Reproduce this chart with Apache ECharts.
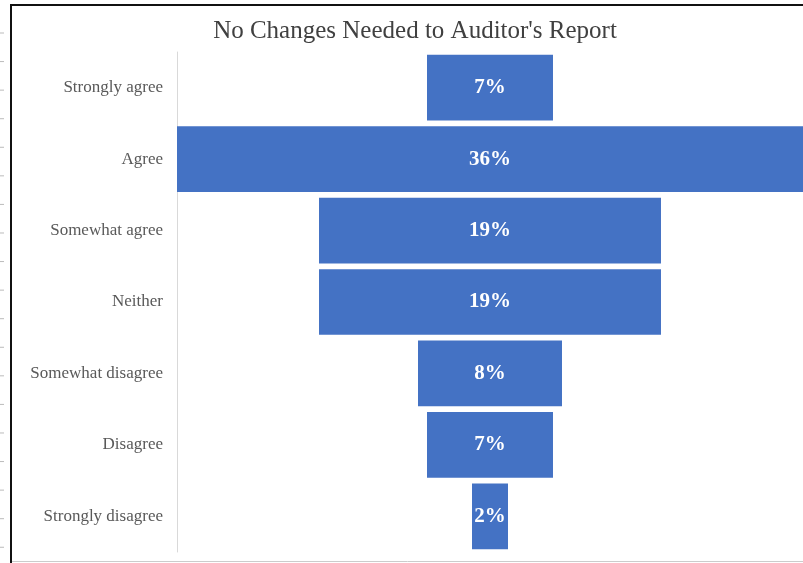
<!DOCTYPE html>
<html><head><meta charset="utf-8">
<script src="https://cdn.jsdelivr.net/npm/echarts@6/dist/echarts.min.js"></script>
<style>html,body{margin:0;padding:0;background:#fff}#c{width:803px;height:563px}</style>
</head><body><div id="c"></div>
<script>
const categories = ['Strongly agree','Agree','Somewhat agree','Neither','Somewhat disagree','Disagree','Strongly disagree'];
const values = [7, 36, 19, 19, 8, 7, 2];
const center = 20;
const offsets = values.map(v => center - v / 2);

const serif = "'Liberation Serif', 'Times New Roman', serif";
const chart = echarts.init(document.getElementById('c'));
const ticks = [];
for (let k = 0; k < 20; k++) {
  ticks.push({type:'line', shape:{x1:0,y1:33+k*28.57,x2:4,y2:33+k*28.57}, style:{stroke:'#bbb',lineWidth:1}});
}
chart.setOption({
  animation:false,
  title:{text:"No Changes Needed to Auditor's Report", left:410, textAlign:'center', top:14,
    textStyle:{fontFamily:serif, fontSize:25, fontWeight:'normal', color:'#404040'}},
  grid:{left:177, right:0, top:52, bottom:11},
  xAxis:{type:'value', min:center-17.39, max:center+17.39, show:false},
  yAxis:{type:'category', data:categories, inverse:true,
    axisLine:{show:true, lineStyle:{color:'#d9d9d9', width:1}},
    axisTick:{show:false},
    axisLabel:{fontFamily:serif, fontSize:17, color:'#595959', margin:14}},
  series:[
    {type:'bar', stack:'f', data:offsets, itemStyle:{color:'transparent'}, barWidth:'92%', silent:true, clip:true},
    {type:'bar', stack:'f', data:values, barWidth:'92%', clip:true,
      itemStyle:{color:'#4472C4'},
      label:{show:true, position:'inside', formatter:p=>p.value+'%', color:'#fff',
        fontFamily:serif, fontWeight:'bold', fontSize:21}}
  ],
  graphic:[
    {type:'line', shape:{x1:10,y1:5,x2:803,y2:5}, style:{stroke:'#111',lineWidth:2}, z:100},
    {type:'line', shape:{x1:11,y1:4,x2:11,y2:563}, style:{stroke:'#111',lineWidth:2}, z:100},
    {type:'line', shape:{x1:12,y1:561.5,x2:803,y2:561.5}, style:{stroke:'#ccc',lineWidth:1}, z:100}
  ].concat(ticks)
});
</script></body></html>
